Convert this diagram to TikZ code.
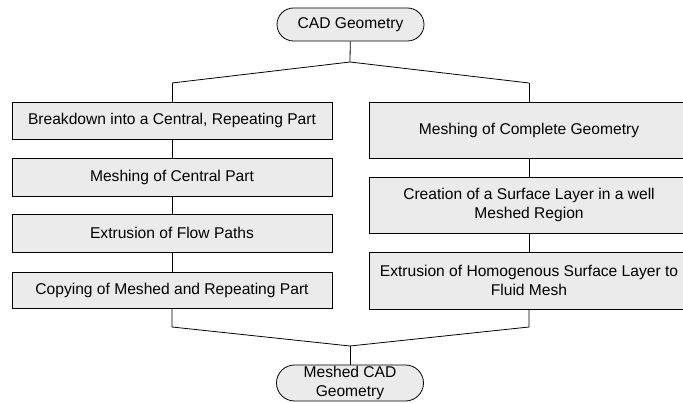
\documentclass[tikz,border=0pt]{standalone}
\usepackage{fontspec}
\setmainfont{Liberation Sans}
\usepackage{tikz}
\usetikzlibrary{shapes.misc,positioning}
\definecolor{boxgray}{RGB}{235,235,235}

\begin{document}
\begin{tikzpicture}[x=1pt,y=-1pt,line width=.8pt,
                    every node/.append style={font=\fontsize{15.6}{18.5}\selectfont,
                    draw, fill=boxgray, align=center, inner sep=0pt},
                    stepbox/.style={rectangle, minimum width=320pt, minimum height=#1},
                    endbox/.style={rounded rectangle, minimum width=147pt, minimum height=#1}]
    \useasboundingbox (0,0) rectangle (683,403);
    % start and end
    \node[endbox=33pt] (cad)  at (350.5,24.5) {CAD Geometry};
    \node[endbox=36pt] (mesh) at (350,383)    {Meshed CAD\\Geometry};
    % left branch
    \node[stepbox=37pt] (left1) at (172,120.5) {Breakdown into a Central, Repeating Part};
    \node[stepbox=38pt] (left2) at (172,177)   {Meshing of Central Part};
    \node[stepbox=38pt] (left3) at (172,233)   {Extrusion of Flow Paths};
    \node[stepbox=36pt] (left4) at (172,290)   {Copying of Meshed and Repeating Part};
    % right branch
    \node[stepbox=56pt] (right1) at (529,130)   {Meshing of Complete Geometry};
    \node[stepbox=56pt] (right2) at (529,205)   {Creation of a Surface Layer in a well\\Meshed Region};
    \node[stepbox=57pt] (right3) at (529,280.5) {Extrusion of Homogenous Surface Layer to\\Fluid Mesh};
    % split and join points
    \coordinate (split) at (350,62);
    \coordinate (splitl) at (172,83);
    \coordinate (splitr) at (529,83);
    \coordinate (joinl) at (172,327);
    \coordinate (joinr) at (529,327);
    \coordinate (join) at (350,346);
    \draw (cad) -- (split);
    \draw (splitl) -- (split) -- (splitr);
    \draw (splitl) -- (left1);
    \draw (splitr) -- (right1);
    \draw (left1) -- (left2);
    \draw (left2) -- (left3);
    \draw (left3) -- (left4);
    \draw (right1) -- (right2);
    \draw (right2) -- (right3);
    \draw (left4) -- (joinl) -- (join);
    \draw (right3) -- (joinr) -- (join);
    \draw (join) -- (mesh);
\end{tikzpicture}
\end{document}
